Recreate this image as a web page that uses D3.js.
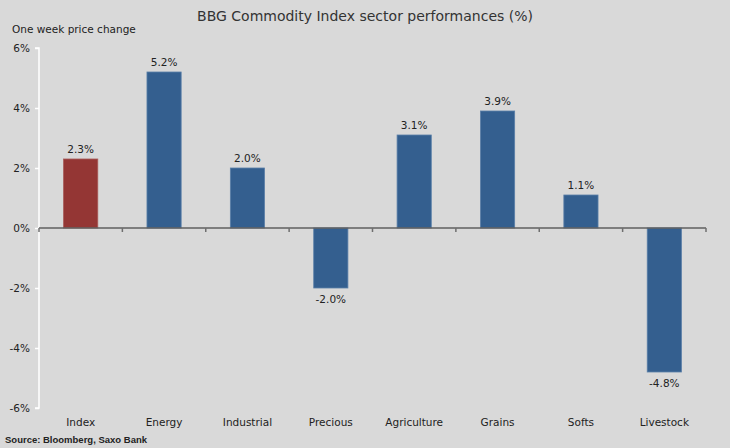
<!DOCTYPE html>
<html>
<head>
<meta charset="utf-8">
<script src="https://cdn.jsdelivr.net/npm/d3@7"></script>
<style>
  body { margin: 0; background: #d9d9d9; }
  svg { display: block; font-family: "DejaVu Sans", Verdana, sans-serif; }
</style>
</head>
<body>
<svg id="chart" width="730" height="448"></svg>
<script>
const sectors = ['Index', 'Energy', 'Industrial', 'Precious', 'Agriculture', 'Grains', 'Softs', 'Livestock']
const changes = [2.3, 5.2, 2.0, -2.0, 3.1, 3.9, 1.1, -4.8]
const yTicks = [-6, -4, -2, 0, 2, 4, 6]

const svg = d3.select('#chart')
const plotLeft = 39, plotRight = 706, plotTop = 48, plotBottom = 408

svg.append('rect').attr('width', 730).attr('height', 448).attr('fill', '#d9d9d9')

const x = d3.scaleBand().domain(sectors).range([plotLeft, plotRight]).paddingInner(0.59).paddingOuter(0.295)
const y = d3.scaleLinear().domain([-6, 6]).range([plotBottom, plotTop])

// y axis (white)
const yAxis = svg.append('g')
  .attr('transform', `translate(${plotLeft},0)`)
  .call(d3.axisLeft(y).tickValues(yTicks).tickSize(4).tickFormat(d => d + '%'))
yAxis.select('.domain').attr('stroke', '#fff').attr('stroke-width', 1.5).attr('d', `M-4,${plotTop}H0V${plotBottom}H-4`)
yAxis.selectAll('.tick line').attr('stroke', '#fff').attr('stroke-width', 1.5)
yAxis.selectAll('.tick text').attr('fill', '#222').attr('font-size', 10.5).attr('x', -9)
  .attr('font-family', '"DejaVu Sans", Verdana, sans-serif')

// bars
svg.append('g')
  .selectAll('rect')
  .data(changes)
  .enter()
  .append('rect')
  .attr('x', (d, i) => x(sectors[i]))
  .attr('width', x.bandwidth())
  .attr('y', d => y(Math.max(0, d)))
  .attr('height', d => Math.abs(y(d) - y(0)))
  .attr('fill', (d, i) => i === 0 ? '#943634' : '#345f8f')
  .attr('stroke', (d, i) => i === 0 ? '#a85a58' : '#5a7fa8')
  .attr('stroke-width', 0.8)

// x axis at zero with ticks at band boundaries
const zero = y(0)
const xg = svg.append('g')
xg.append('line').attr('x1', plotLeft).attr('x2', plotRight).attr('y1', zero).attr('y2', zero)
  .attr('stroke', '#5f5f5f').attr('stroke-width', 1.5)
xg.selectAll('line.tk')
  .data(d3.range(sectors.length + 1))
  .enter()
  .append('line')
  .attr('class', 'tk')
  .attr('x1', i => plotLeft + i * x.step())
  .attr('x2', i => plotLeft + i * x.step())
  .attr('y1', zero).attr('y2', zero + 4)
  .attr('stroke', '#6f6f6f').attr('stroke-width', 1.5)

// category labels
svg.append('g')
  .selectAll('text')
  .data(sectors)
  .enter()
  .append('text')
  .attr('x', d => x(d) + x.bandwidth() / 2)
  .attr('y', 426)
  .attr('text-anchor', 'middle')
  .attr('font-size', 10.5)
  .attr('fill', '#222')
  .text(d => d)

// value labels
svg.append('g')
  .selectAll('text')
  .data(changes)
  .enter()
  .append('text')
  .attr('x', (d, i) => x(sectors[i]) + x.bandwidth() / 2)
  .attr('y', d => d >= 0 ? y(d) - 6 : y(d) + 15)
  .attr('text-anchor', 'middle')
  .attr('font-size', 10.5)
  .attr('fill', '#222')
  .text(d => d.toFixed(1) + '%')

svg.append('text').attr('x', 365).attr('y', 21).attr('text-anchor', 'middle')
  .attr('font-size', 14).attr('fill', '#333')
  .text('BBG Commodity Index sector performances (%)')
svg.append('text').attr('x', 12).attr('y', 33).attr('font-size', 10.5).attr('fill', '#222')
  .text('One week price change')
svg.append('text').attr('x', 5).attr('y', 443).attr('font-size', 9.5).attr('fill', '#222')
  .attr('font-weight', 'bold').attr('font-family', '"Liberation Sans", Arial, sans-serif')
  .text('Source: Bloomberg, Saxo Bank')
</script>
</body>
</html>
